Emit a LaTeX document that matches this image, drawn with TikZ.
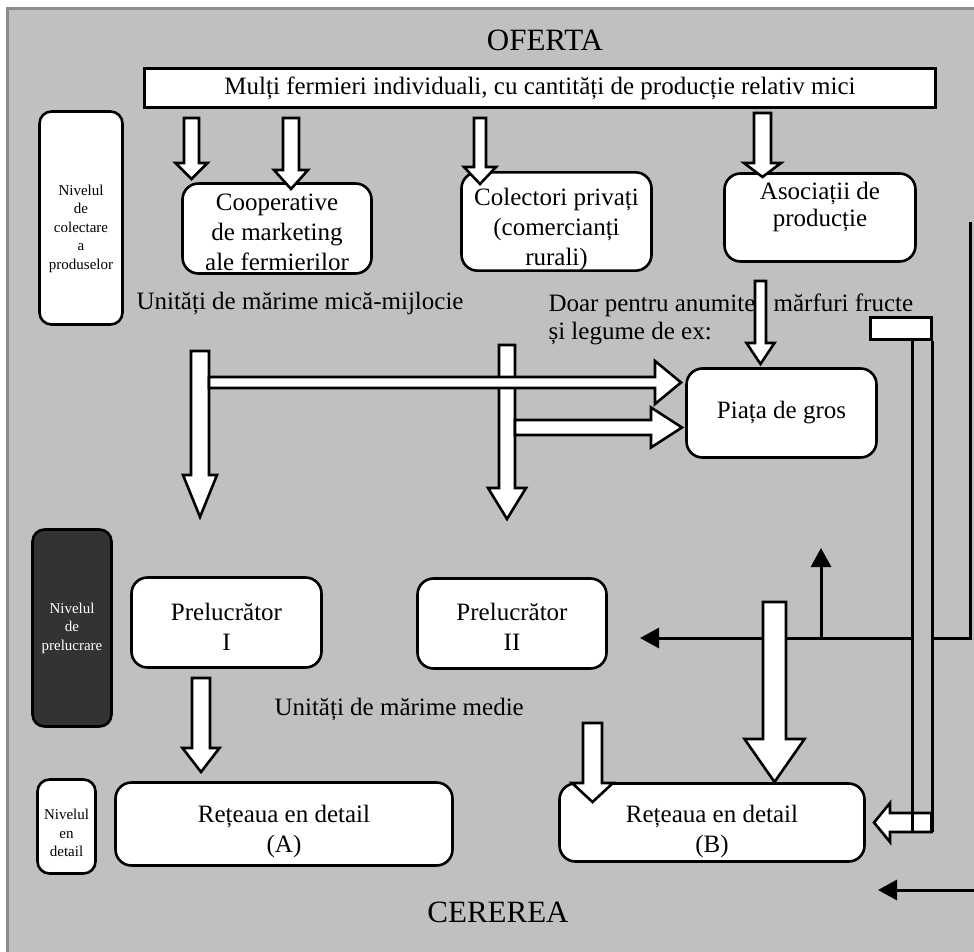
\documentclass[tikz,border=0pt]{standalone}
\usepackage{fontspec}
\setmainfont{Liberation Serif}
\usetikzlibrary{calc,arrows.meta}

\definecolor{bgray}{HTML}{C0C0C0}
\definecolor{edgegray}{HTML}{8C8C8C}
\definecolor{darkbox}{HTML}{333333}

\newcommand{\lblbig}{\fontsize{25pt}{30pt}\selectfont}
\newcommand{\lblsmall}{\fontsize{15pt}{18.5pt}\selectfont}
\newcommand{\lblhuge}{\fontsize{31pt}{36pt}\selectfont}
% invisible struts that push a box text down or up
\newcommand{\up}[1]{\rule{0pt}{#1}}
\newcommand{\dn}[1]{\rule[-#1]{0pt}{0pt}}

% block arrow: start, tip, shaft half width, head half width, head length (pt)
\newcommand{\fatarrow}[5]{%
  \coordinate (fa-b) at ($(#2)!#5pt!(#1)$);
  \filldraw[fat] ($(#1)!#3pt!90:(#2)$) -- ($(fa-b)!#3pt!90:(#2)$) -- ($(fa-b)!#4pt!90:(#2)$) -- (#2)
    -- ($(fa-b)!#4pt!-90:(#2)$) -- ($(fa-b)!#3pt!-90:(#2)$) -- ($(#1)!#3pt!-90:(#2)$) -- cycle;
}

\begin{document}
\begin{tikzpicture}[x=1pt,y=-1pt,>=Latex,
  box/.style={draw,fill=white,line width=2.6pt,rounded corners=16pt,align=center,inner sep=0pt,font=\lblbig},
  level/.style={box,rounded corners=12pt,font=\lblsmall},
  fat/.style={draw,fill=white,line width=2.6pt},
  wire/.style={line width=3pt},
  wirehead/.style={-{Triangle[length=19pt,width=20pt]}}]
  \useasboundingbox (0,0) rectangle (974,952);
  % background panel
  \fill[white] (0,0) rectangle (974,952);
  \fill[bgray] (6,7) rectangle (974,952);
  \draw[line width=3pt,edgegray] (7.5,952) -- (7.5,8.5) -- (974,8.5);

  % titles and free texts
  \node[font=\lblhuge] (oferta) at (545,40) {OFERTA};
  \node[font=\lblhuge] (cererea) at (498,912) {CEREREA};
  \node[anchor=west,font=\lblbig] (smallunits) at (133,303) {Unități de mărime mică-mijlocie};
  \node[anchor=west,font=\lblbig] (medunits) at (271,709) {Unități de mărime medie};
  \node[anchor=west,align=left,font=\fontsize{25pt}{28pt}\selectfont] (note) at (545,319)
    {Doar pentru anumite\hspace{12pt} mărfuri fructe\\și legume de ex:};

  % boxes
  \node[box,sharp corners,minimum width=791pt,minimum height=39pt] (farm) at (540,88)
    {Mulți fermieri individuali, cu cantități de producție relativ mici};
  \node[level,minimum width=83pt,minimum height=213pt] (lvcol) at (81,218)
    {\strut\\Nivelul\\de\\colectare\\a\\produselor};
  \node[box,minimum width=189pt,minimum height=90pt] (coop) at (277,228.5)
    {\up{25pt}Cooperative\\de marketing\\ale fermierilor};
  \node[box,minimum width=190pt,minimum height=88pt] (priv) at (556.5,221.5)
    {\up{33pt}Colectori privați\\(comercianți\\rurali)};
  \node[box,minimum width=191pt,minimum height=88pt,font=\fontsize{25pt}{27pt}\selectfont] (asoc) at (820,217.5)
    {Asociații de\\producție\dn{26pt}};
  \node[box,minimum width=190pt,minimum height=89pt] (piata) at (781.5,413) {Piața de gros};
  \node[box,minimum width=190pt,minimum height=90pt] (prel1) at (226.5,622.5) {\up{25pt}Prelucrător\\I};
  \node[box,minimum width=189pt,minimum height=90pt] (prel2) at (512,623.5) {\up{23pt}Prelucrător\\II};
  \node[level,fill=darkbox,text=white,minimum width=79pt,minimum height=197pt] (lvprel) at (72,628)
    {Nivelul\\de\\prelucrare};
  \node[level,minimum width=58pt,minimum height=94pt] (lvdet) at (66.5,826.5) {\up{24pt}Nivelul\\en\\detail};
  \node[box,minimum width=337pt,minimum height=83pt] (retA) at (284,824) {\up{32pt}Rețeaua en detail\\(A)};
  \node[box,minimum width=305pt,minimum height=78pt] (retB) at (712,822.5) {\up{35pt}Rețeaua en detail\\(B)};

  % arrow end points
  \coordinate (c1s) at (191.5,118);  \coordinate (c1t) at (191.5,179);
  \coordinate (c2s) at (291,118);    \coordinate (c2t) at (291,189);
  \coordinate (p1s) at (480,118);    \coordinate (p1t) at (480,184);
  \coordinate (a1s) at (762.5,113);  \coordinate (a1t) at (762.5,177);
  \coordinate (gs)  at (760.5,281);  \coordinate (gt)  at (760.5,364);
  \coordinate (v1s) at (200,351);    \coordinate (v1t) at (200,517);
  \coordinate (v2s) at (507,345);    \coordinate (v2t) at (507,519);
  \coordinate (h1s) at (209,382.5);  \coordinate (h1t) at (681,382.5);
  \coordinate (h2s) at (515,427.5);  \coordinate (h2t) at (682,427.5);
  \coordinate (rAs) at (201,678);    \coordinate (rAt) at (201,772);
  \coordinate (rBs) at (592.5,723);  \coordinate (rBt) at (592.5,802);
  \coordinate (bBs) at (774.5,602);  \coordinate (bBt) at (774.5,782);
  \coordinate (fds) at (931.5,822.5); \coordinate (fdt) at (874,822.5);

  % right side channel and lines
  \node[draw,fill=white,line width=2.6pt,minimum width=61pt,minimum height=22pt,inner sep=0pt] (gate) at (901,328.5) {};
  \coordinate (chL) at (912,339.5);
  \coordinate (chB) at (912,831.5);
  \coordinate (rtop) at (970,222);
  \coordinate (rbend) at (970,638);
  \coordinate (upT) at (821,548);
  \coordinate (toP2) at (640,638);
  \coordinate (botS) at (974,890);
  \coordinate (botT) at (878,890);
  \draw[wire] (rtop) -- (rbend) -- (gate.east |- rbend);
  \draw[wire,wirehead] (chL |- rbend) -- (toP2);
  \draw[wire,wirehead] (upT |- rbend) -- (upT);
  \draw[wire,wirehead] (botS) -- (botT);
  \fatarrow{fds}{fdt}{9.5}{19.5}{16}
  \draw[wire] (gate.south east) -- (gate.east |- chB);
  \draw[wire] (chL) -- (chB);

  % block arrows
  \fatarrow{c1s}{c1t}{7.5}{16}{16}
  \fatarrow{c2s}{c2t}{8}{17}{19}
  \fatarrow{p1s}{p1t}{6}{16}{17}
  \fatarrow{a1s}{a1t}{8.5}{18.5}{14}
  \fatarrow{gs}{gt}{5.5}{14}{21}
  \fatarrow{v1s}{v1t}{9}{17}{42}
  \fatarrow{v2s}{v2t}{8}{19}{31}
  \fatarrow{h1s}{h1t}{5.5}{21.5}{26}
  \fatarrow{h2s}{h2t}{7.5}{20}{31}
  \fatarrow{rAs}{rAt}{9}{18.5}{24}
  \fatarrow{rBs}{rBt}{9.5}{20.5}{19}
  \fatarrow{bBs}{bBt}{11.5}{30}{43}
\end{tikzpicture}
\end{document}
